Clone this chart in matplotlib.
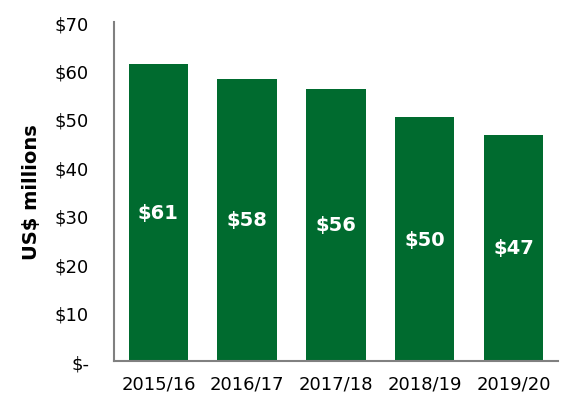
import matplotlib
matplotlib.use("Agg")
import matplotlib.pyplot as plt

years = ["2015/16", "2016/17", "2017/18", "2018/19", "2019/20"]
spend = [61.4, 58.3, 56.2, 50.4, 46.7]   # US$ millions
y_ticks = [0, 10, 20, 30, 40, 50, 60, 70]
y_tick_labels = ["$-", "$10", "$20", "$30", "$40", "$50", "$60", "$70"]

GREEN = "#006b2f"
AXIS = "#808080"

plt.rcParams["font.family"] = ["DejaVu Sans"]

fig = plt.figure(figsize=(5.63, 4.02), dpi=100)
ax = fig.add_axes([0.2025, 0.0995, 0.7885, 0.843])

x = range(len(years))
ax.bar(x, spend, width=0.67, color=GREEN, zorder=2)

for xi, v in zip(x, spend):
    ax.text(xi, v / 2, f"${v:.0f}", ha="center", va="center",
            color="white", fontsize=14, fontweight="bold")

ax.set_xlim(-0.5, len(years) - 0.5)
ax.set_ylim(0, 70)
ax.set_xticks(list(x))
ax.set_xticklabels(years, fontsize=13)
ax.set_yticks(y_ticks)
ax.set_yticklabels(y_tick_labels, fontsize=13)
ax.tick_params(axis="x", length=0, pad=10)
ax.tick_params(axis="y", length=0, pad=18)
ax.set_ylabel("US$ millions", fontsize=14, fontweight="bold", labelpad=10)

for side in ("top", "right"):
    ax.spines[side].set_visible(False)
for side in ("left", "bottom"):
    ax.spines[side].set_color(AXIS)
    ax.spines[side].set_linewidth(1.5)

fig.savefig("out.png", dpi=100)
